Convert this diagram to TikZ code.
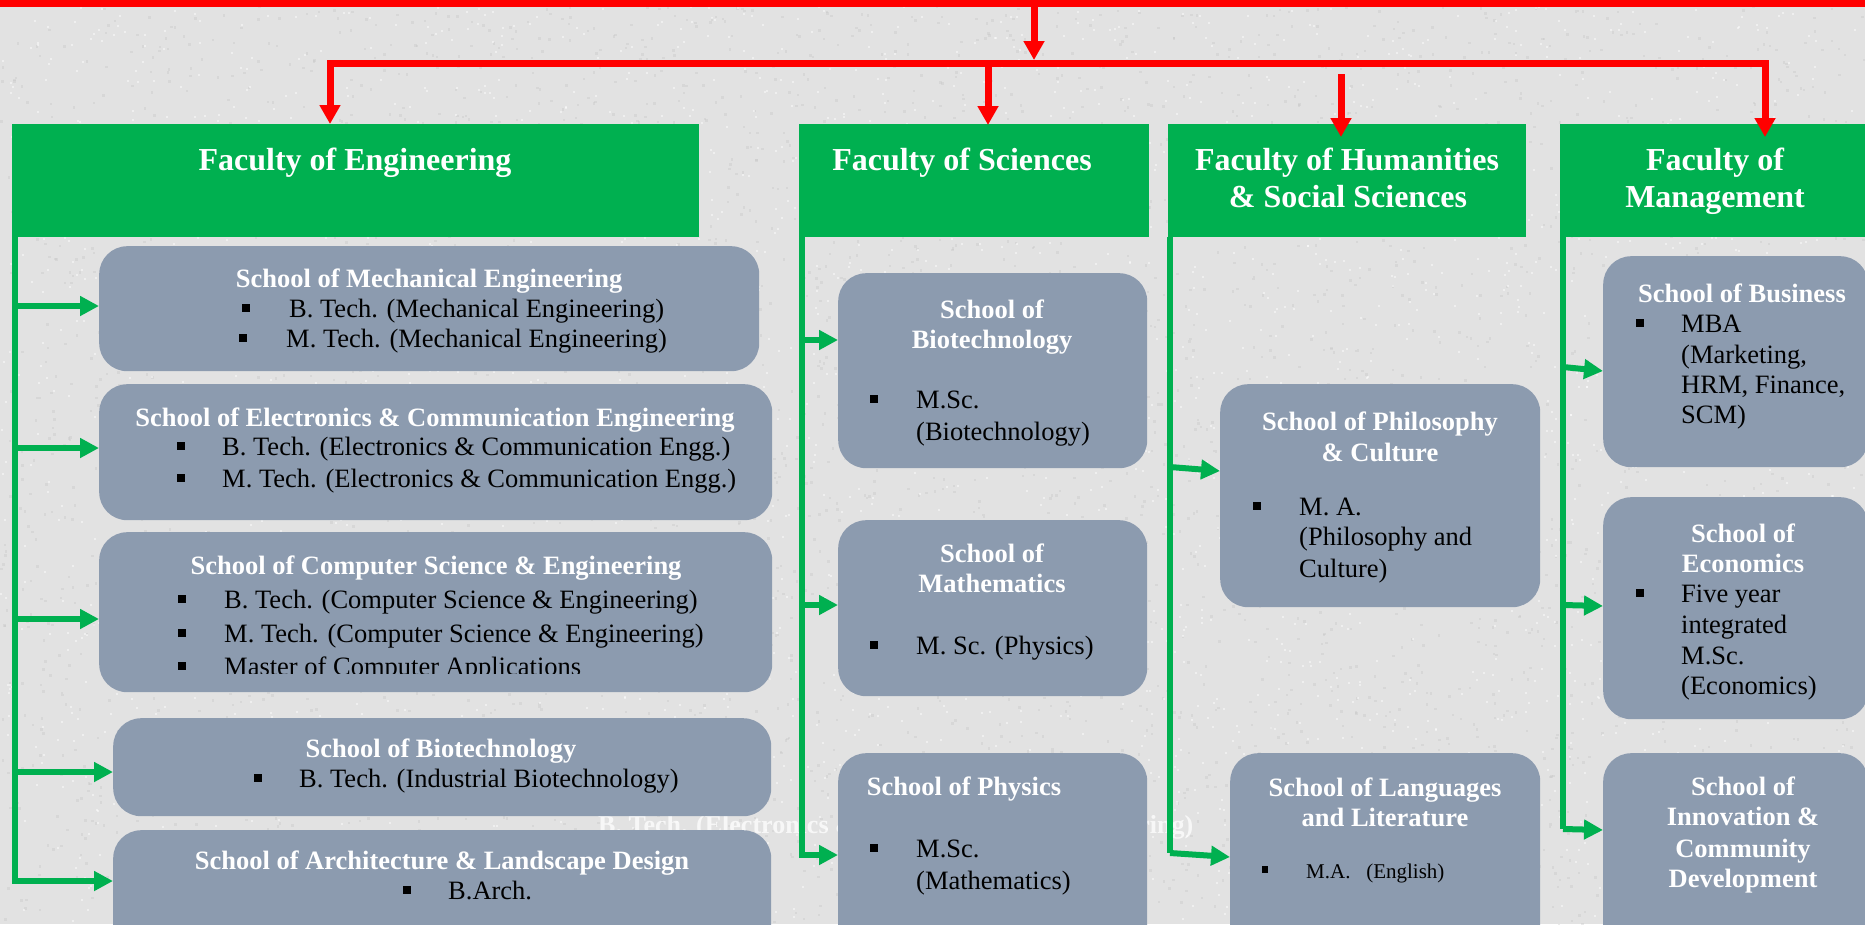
\documentclass[tikz,border=0pt]{standalone}
\usepackage{fontspec}
\setmainfont{Liberation Serif}
\usetikzlibrary{arrows.meta}
\definecolor{bgc}{HTML}{E2E2E2}
\definecolor{speckc}{HTML}{C4C4C4}
\definecolor{fgreen}{HTML}{00B050}
\definecolor{sgray}{HTML}{8C9BAF}
\definecolor{rred}{HTML}{FF0000}
\newcommand\mybul[2]{\fill[black] (#1,#2-13) rectangle ++(8,8);}
\begin{document}
\begin{tikzpicture}[x=1pt,y=-1pt,
  fac/.style={fill=fgreen, draw=none, rectangle, inner sep=0pt, anchor=north west},
  school/.style={fill=sgray, draw=none, rectangle, rounded corners=28pt, inner sep=0pt, anchor=north west},
  ftitle/.style={text=white, font=\fontsize{32}{37}\selectfont\bfseries, inner sep=0pt, anchor=base},
  stitle/.style={text=white, font=\fontsize{26.5}{30}\selectfont\bfseries, inner sep=0pt, anchor=base},
  item/.style={text=black, font=\fontsize{26.5}{30}\selectfont, inner sep=0pt, anchor=base west},
  rline/.style={draw=rred, line width=7pt},
  rarrow/.style={rline, -{Triangle[width=20pt,length=19pt]}},
  gline/.style={draw=fgreen, line width=6pt},
  garrow/.style={gline, -{Triangle[width=19pt,length=19pt]}},
  speck/.style={fill=speckc, fill opacity=0.35},
  lspeck/.style={fill=white, fill opacity=0.45},
]
\clip (0,0) rectangle (1865,924);
\fill[bgc] (0,0) rectangle (1865,924);
% mottled background texture
\pgfmathsetseed{7}
\begin{scope}[speck]
\foreach \i in {1,...,4500}{%
  \pgfmathsetmacro\rx{rnd*1865}%
  \pgfmathsetmacro\ry{rnd*924}%
  \fill (\rx,\ry) rectangle ++(2.5,2.5);}
\end{scope}
\begin{scope}[lspeck]
\foreach \i in {1,...,3000}{%
  \pgfmathsetmacro\rx{rnd*1865}%
  \pgfmathsetmacro\ry{rnd*924}%
  \fill (\rx,\ry) rectangle ++(2,2);}
\end{scope}

% faint stray text behind the boxes
\node[item, font=\fontsize{26}{30}\selectfont\bfseries, text=white, text opacity=0.75] (ghost) at (598,833) {B. Tech. (Electronics \& Communication Engineering)};

% faculty boxes
\node[fac, minimum width=687pt, minimum height=113pt] (engF) at (12,124) {};
\node[fac, minimum width=350pt, minimum height=113pt] (sciF) at (799,124) {};
\node[fac, minimum width=358pt, minimum height=113pt] (humF) at (1168,124) {};
\node[fac, minimum width=310pt, minimum height=113pt] (manF) at (1560,124) {};

% school boxes
\node[school, minimum width=660pt, minimum height=125pt] (e1) at (99,246) {};
\node[school, minimum width=673pt, minimum height=136pt] (e2) at (99,384) {};
\node[school, minimum width=673pt, minimum height=160pt] (e3) at (99,532) {};
\node[school, minimum width=658pt, minimum height=98pt] (e4) at (113,718) {};
\node[school, minimum width=658pt, minimum height=130pt] (e5) at (113,830) {};
\node[school, minimum width=309pt, minimum height=195pt] (s1) at (838,273) {};
\node[school, minimum width=309pt, minimum height=176pt] (s2) at (838,520) {};
\node[school, minimum width=309pt, minimum height=200pt] (s3) at (838,753) {};
\node[school, minimum width=320pt, minimum height=223pt] (h1) at (1220,384) {};
\node[school, minimum width=310pt, minimum height=200pt] (h2) at (1230,753) {};
\node[school, minimum width=265pt, minimum height=211pt] (m1) at (1603,256) {};
\node[school, minimum width=265pt, minimum height=222pt] (m2) at (1603,497) {};
\node[school, minimum width=265pt, minimum height=200pt] (m3) at (1603,753) {};

% red connectors
\coordinate (topL) at (0,3.5);
\coordinate (topR) at (1865,3.5);
\draw[rline] (topL) -- (topR);
\coordinate (rTop) at (1034,7);
\coordinate (rHubTop) at (1034,60);
\draw[rarrow] (rTop) -- (rHubTop);
\coordinate (rHub) at (1034,63);
\coordinate (rEng) at (330,124);
\coordinate (rMan) at (1765,137);
\draw[rarrow] (rHub) -| (rEng);
\draw[rarrow] (rHub) -| (rMan);
\coordinate (rSci0) at (988,63);
\coordinate (rSci) at (988,125);
\draw[rarrow] (rSci0) -- (rSci);
\coordinate (rHum0) at (1341,74);
\coordinate (rHum) at (1341,137);
\draw[rarrow] (rHum0) -- (rHum);

% green connectors: engineering
\coordinate (gE0) at (15,237);
\coordinate (gE1) at (15,306);
\coordinate (gE2) at (15,448);
\coordinate (gE3) at (15,619);
\coordinate (gE4) at (15,772);
\coordinate (gE5) at (15,881);
\draw[garrow] (gE0) -- (gE5) -- (gE5 -| e5.west);
\draw[garrow] (gE1) -- (gE1 -| e1.west);
\draw[garrow] (gE2) -- (gE2 -| e2.west);
\draw[garrow] (gE3) -- (gE3 -| e3.west);
\draw[garrow] (gE4) -- (gE4 -| e4.west);
% sciences
\coordinate (gS0) at (802,237);
\coordinate (gS1) at (802,340);
\coordinate (gS2) at (802,605);
\coordinate (gS3) at (802,855);
\draw[garrow] (gS0) -- (gS3) -- (gS3 -| s3.west);
\draw[garrow] (gS1) -- (gS1 -| s1.west);
\draw[garrow] (gS2) -- (gS2 -| s2.west);
% humanities
\coordinate (gH0) at (1170,237);
\coordinate (gH1) at (1170,467);
\coordinate (gH2) at (1170,853);
\coordinate (hT1) at (1220,471);
\coordinate (hT2) at (1230,857);
\draw[gline] (gH0) -- (gH2);
\draw[garrow] (gH1) -- (hT1);
\draw[garrow] (gH2) -- (hT2);
% management
\coordinate (gM0) at (1563,237);
\coordinate (gM1) at (1563,367);
\coordinate (gM2) at (1563,605);
\coordinate (gM3) at (1563,829);
\coordinate (mT1) at (1603,371);
\coordinate (mT2) at (1603,606);
\coordinate (mT3) at (1603,830);
\draw[gline] (gM0) -- (gM3);
\draw[garrow] (gM1) -- (mT1);
\draw[garrow] (gM2) -- (mT2);
\draw[garrow] (gM3) -- (mT3);

% faculty titles
\node[ftitle] (engT) at (355,170) {Faculty of Engineering};
\node[ftitle] (sciT) at (962,170) {Faculty of Sciences};
\node[ftitle] (humT1) at (1347,170) {Faculty of Humanities};
\node[ftitle] (humT2) at (1348,207) {\& Social Sciences};
\node[ftitle] (manT1) at (1715,170) {Faculty of};
\node[ftitle] (manT2) at (1715,207) {Management};

% engineering schools
\node[stitle] (e1t) at (429,287) {School of Mechanical Engineering};
\mybul{242}{317}\node[item] (e1a) at (289,317) {B. Tech. (Mechanical Engineering)};
\mybul{239}{347}\node[item] (e1b) at (286,347) {M. Tech. (Mechanical Engineering)};

\node[stitle] (e2t) at (435,426) {School of Electronics \& Communication Engineering};
\mybul{177}{455}\node[item] (e2a) at (222,455) {B. Tech. (Electronics \& Communication Engg.)};
\mybul{177}{487}\node[item] (e2b) at (222,487) {M. Tech. (Electronics \& Communication Engg.)};

\node[stitle] (e3t) at (436,574) {School of Computer Science \& Engineering};
\mybul{178}{608}\node[item] (e3a) at (224,608) {B. Tech. (Computer Science \& Engineering)};
\mybul{178}{642}\node[item] (e3b) at (224,642) {M. Tech. (Computer Science \& Engineering)};
\mybul{178}{675}
\begin{scope}
\clip (0,0) rectangle (1865,673);
\node[item] (e3c) at (224,675) {Master of Computer Applications};
\end{scope}

\node[stitle] (e4t) at (441,757) {School of Biotechnology};
\mybul{254}{787}\node[item] (e4a) at (299,787) {B. Tech. (Industrial Biotechnology)};

\node[stitle] (e5t) at (442,869) {School of Architecture \& Landscape Design};
\mybul{403}{899}\node[item] (e5a) at (448,899) {B.Arch.};

% sciences schools
\node[stitle] (s1t1) at (992,318) {School of};
\node[stitle] (s1t2) at (992,348) {Biotechnology};
\mybul{870}{408}\node[item] (s1a) at (916,408) {M.Sc.};
\node[item] (s1b) at (916,440) {(Biotechnology)};

\node[stitle] (s2t1) at (992,562) {School of};
\node[stitle] (s2t2) at (992,592) {Mathematics};
\mybul{870}{654}\node[item] (s2a) at (916,654) {M. Sc. (Physics)};

\node[stitle] (s3t) at (964,795) {School of Physics};
\mybul{870}{857}\node[item] (s3a) at (916,857) {M.Sc.};
\node[item] (s3b) at (916,889) {(Mathematics)};

% humanities schools
\node[stitle] (h1t1) at (1380,430) {School of Philosophy};
\node[stitle] (h1t2) at (1380,461) {\& Culture};
\mybul{1253}{515}\node[item] (h1a) at (1299,515) {M. A.};
\node[item] (h1b) at (1299,545) {(Philosophy and};
\node[item] (h1c) at (1299,577) {Culture)};

\node[stitle] (h2t1) at (1385,796) {School of Languages};
\node[stitle] (h2t2) at (1385,826) {and Literature};
\fill[black] (1262,866) rectangle ++(6,7);
\node[item, font=\fontsize{21}{25}\selectfont] (h2a) at (1306,878) {M.A.~~~(English)};

% management schools
\node[stitle] (m1t) at (1742,302) {School of Business};
\mybul{1636}{332}\node[item] (m1a) at (1681,332) {MBA};
\node[item] (m1b) at (1681,363) {(Marketing,};
\node[item] (m1c) at (1681,393) {HRM, Finance,};
\node[item] (m1d) at (1681,423) {SCM)};

\node[stitle] (m2t1) at (1743,542) {School of};
\node[stitle] (m2t2) at (1743,572) {Economics};
\mybul{1636}{602}\node[item] (m2a) at (1681,602) {Five year};
\node[item] (m2b) at (1681,633) {integrated};
\node[item] (m2c) at (1681,664) {M.Sc.};
\node[item] (m2d) at (1681,694) {(Economics)};

\node[stitle] (m3t1) at (1743,795) {School of};
\node[stitle] (m3t2) at (1743,825) {Innovation \&};
\node[stitle] (m3t3) at (1743,857) {Community};
\node[stitle] (m3t4) at (1743,887) {Development};
\end{tikzpicture}
\end{document}
